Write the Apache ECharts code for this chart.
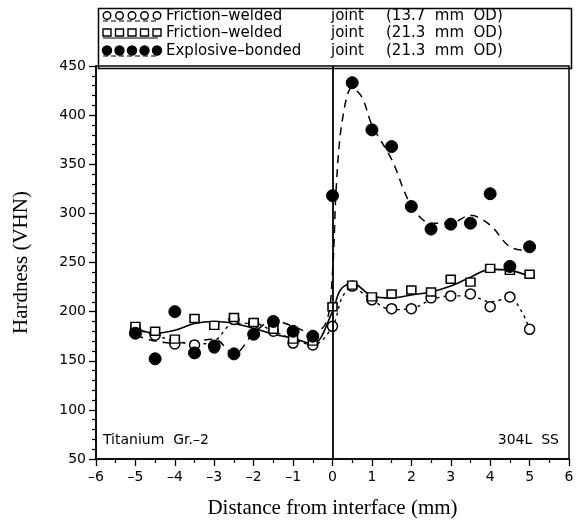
<!DOCTYPE html>
<html>
<head>
<meta charset="utf-8">
<script src="https://cdn.jsdelivr.net/npm/echarts@6/dist/echarts.min.js"></script>
<style>html,body{margin:0;padding:0;background:#fff}#c{width:587px;height:524px}</style>
</head>
<body>
<div id="c"></div>
<script>
// ---- data ----
const xTicks = [-6,-5,-4,-3,-2,-1,0,1,2,3,4,5,6];
const yTicks = [50,100,150,200,250,300,350,400,450];

const xPts = [-5,-4.5,-4,-3.5,-3,-2.5,-2,-1.5,-1,-0.5,0,0.5,1,1.5,2,2.5,3,3.5,4,4.5,5];
// Friction-welded joint (13.7 mm OD) - open circles
const fw137 = [182,176,167,166,163,192,188,180,168,166,185,226,212,203,203,214,216,218,205,215,182];
// Friction-welded joint (21.3 mm OD) - open squares
const fw213 = [185,180,172,193,186,194,189,182,172,170,205,227,215,218,222,220,233,230,244,242,238];
// Explosive-bonded joint (21.3 mm OD) - filled circles
const eb213 = [178,152,200,158,165,157,177,190,180,175,318,433,385,368,307,284,289,290,320,246,266];

// fitted curves
const fitSolidX = [-5,-4.5,-4,-3.5,-3,-2.5,-2,-1.5,-1,-0.5,0,0.2,0.5,1,1.5,2,2.5,3,3.5,4,4.5,5];
const fitSolidY = [183,178,181,188,190,188,183,177,173,167,200,222,229,216,214,217,220,226,235,243,242,236];
const fitDotX = [-5,-4.5,-4,-3.5,-3,-2.5,-2,-1.5,-1,-0.5,0,0.25,0.5,1,1.5,2,2.5,3,3.5,4,4.5,4.8,5];
const fitDotY = [182,176,170,167,170,188,188,180,172,166,185,215,224,212,202,203,212,216,216,210,214,200,182];
const fitDashX = [-5,-4.5,-4,-3.5,-3,-2.5,-2,-1.5,-1,-0.5,-0.15,0,0.1,0.25,0.5,0.75,1,1.5,2,2.5,3,3.5,4,4.5,5];
const fitDashY = [176,170,168,170,172,157,178,191,185,178,190,240,330,395,428,418,390,355,308,290,290,298,288,266,262];

const legendRows = [
  ['Friction\u2013welded', 'joint', '(13.7  mm  OD)'],
  ['Friction\u2013welded', 'joint', '(21.3  mm  OD)'],
  ['Explosive\u2013bonded', 'joint', '(21.3  mm  OD)']
];

const zip = (xs, ys) => xs.map((x, i) => [x, ys[i]]);
const SANS = 'DejaVu Sans';
const SERIF = 'Liberation Serif';

const chart = echarts.init(document.getElementById('c'), null, {renderer: 'canvas'});

// legend graphic
const g = [];
g.push({type:'rect', left:96, top:6, shape:{width:473, height:60}, style:{fill:'none', stroke:'#000', lineWidth:1.5}, z:10});
const rowY = [16, 33, 51];
const kinds = ['circle','rect','filled'];
rowY.forEach((cy, r) => {
  for (let k = 0; k < 5; k++) {
    const cx = 107 + k * 12.5;
    if (kinds[r] === 'rect') {
      g.push({type:'rect', shape:{x:cx-4, y:cy-4, width:8, height:7}, style:{fill:'#fff', stroke:'#000', lineWidth:1.4}, z:10});
    } else {
      g.push({type:'circle', shape:{cx:cx, cy:cy-0.5, r:kinds[r]==='filled'?4.5:3.8}, style:{fill:kinds[r]==='filled'?'#000':'#fff', stroke:'#000', lineWidth:1.4}, z:10});
    }
  }
  g.push({type:'line', shape:{x1:103, y1:cy+5, x2:158, y2:cy+5}, style:{stroke:'#000', lineWidth:1.2, lineDash: r===1?null:[5,3]}, z:10});
  const row = legendRows[r];
  const cols = [166, 331, 386];
  row.forEach((t, i) => {
    g.push({type:'text', x:cols[i], y:cy, style:{text:t, font:'15px "'+SANS+'"', fill:'#000', textVerticalAlign:'middle', verticalAlign:'middle'}, z:10});
  });
});
g.push({type:'text', left:103, top:433, style:{text:'Titanium  Gr.\u20132', font:'14px "'+SANS+'"', fill:'#000'}, z:10});
g.push({type:'text', right:28, top:433, style:{text:'304L  SS', font:'14px "'+SANS+'"', fill:'#000'}, z:10});

const option = {
  animation: false,
  backgroundColor: '#fff',
  grid: {left:96, right:18, top:66, bottom:65, show:true, borderColor:'#000', borderWidth:1.5, backgroundColor:'transparent'},
  xAxis: {
    type:'value', min:-6, max:6, interval:1,
    name:'Distance from interface (mm)', nameLocation:'middle', nameGap:39,
    nameTextStyle:{fontFamily:SERIF, fontSize:21, color:'#000'},
    axisLine:{show:true, onZero:false, lineStyle:{color:'#000', width:1.5}},
    axisTick:{show:true, length:7, lineStyle:{color:'#000', width:1.3}},
    minorTick:{show:true, splitNumber:2, length:4, lineStyle:{color:'#000', width:1.2}},
    splitLine:{show:false},
    axisLabel:{margin:11, fontFamily:SANS, fontSize:14, color:'#000',
      formatter: v => xTicks.includes(v) ? (v < 0 ? '\u2013' + Math.abs(v) : String(v)) : ''}
  },
  yAxis: {
    type:'value', min:50, max:450, interval:50,
    name:'Hardness (VHN)', nameLocation:'middle', nameGap:64,
    nameTextStyle:{fontFamily:SERIF, fontSize:21, color:'#000'},
    axisLine:{show:true, onZero:false, lineStyle:{color:'#000', width:1.5}},
    axisTick:{show:true, length:7, lineStyle:{color:'#000', width:1.3}},
    minorTick:{show:true, splitNumber:5, length:4, lineStyle:{color:'#000', width:1.2}},
    splitLine:{show:false},
    axisLabel:{margin:10, fontFamily:SANS, fontSize:14, color:'#000',
      formatter: v => yTicks.includes(v) ? String(v) : ''}
  },
  graphic: g,
  series: [
    {type:'line', data:zip(fitSolidX, fitSolidY), smooth:0.35, showSymbol:false, symbol:'none',
     lineStyle:{color:'#000', width:1.6}, z:2,
     markLine:{silent:true, symbol:'none', label:{show:false}, lineStyle:{color:'#000', width:1.8, type:'solid'}, data:[{xAxis:0}]}},
    {type:'line', data:zip(fitDotX, fitDotY), smooth:0.35, showSymbol:false, symbol:'none',
     lineStyle:{color:'#000', width:1.4, type:[3,4]}, z:2},
    {type:'line', data:zip(fitDashX, fitDashY), smooth:0.35, showSymbol:false, symbol:'none',
     lineStyle:{color:'#000', width:1.5, type:[8,6]}, z:2},
    {type:'scatter', data:zip(xPts, fw137), symbol:'circle', symbolSize:10,
     itemStyle:{color:'#fff', borderColor:'#000', borderWidth:1.5, opacity:1}, z:4},
    {type:'scatter', data:zip(xPts, fw213), symbol:'rect', symbolSize:[9,8],
     itemStyle:{color:'#fff', borderColor:'#000', borderWidth:1.5, opacity:1}, z:4},
    {type:'scatter', data:zip(xPts, eb213), symbol:'circle', symbolSize:12,
     itemStyle:{color:'#000', borderColor:'#000', borderWidth:1, opacity:1}, z:5}
  ]
};
chart.setOption(option);
</script>
</body>
</html>
